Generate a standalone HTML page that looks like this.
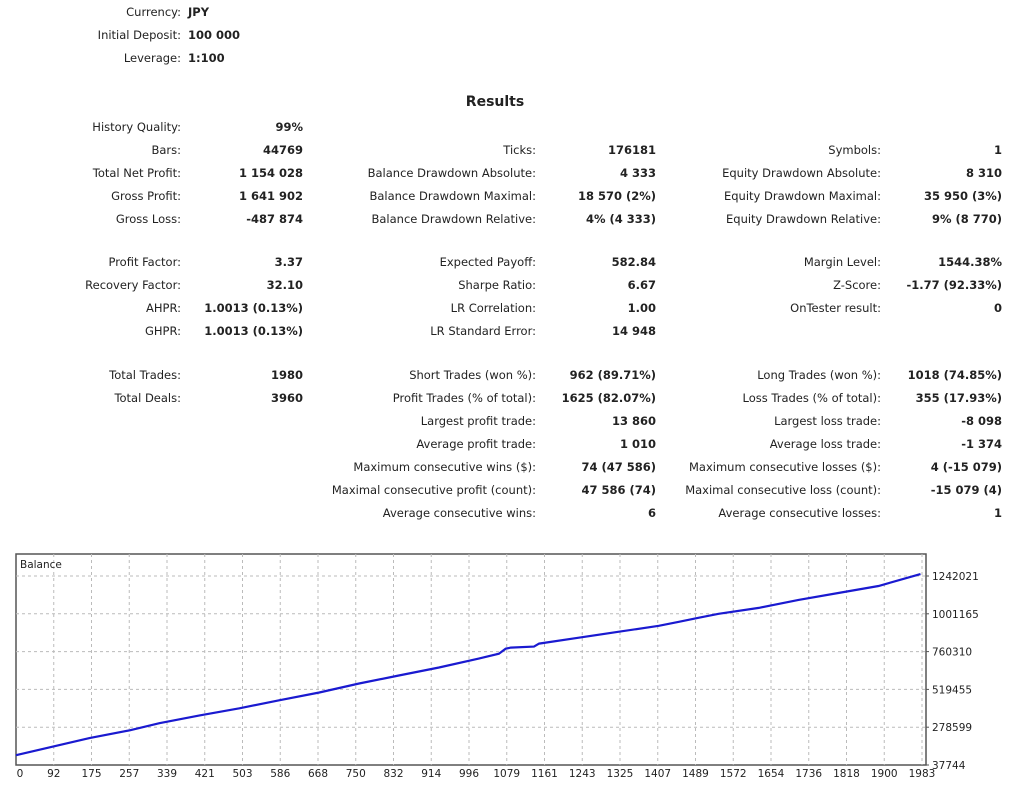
<!DOCTYPE html>
<html><head><meta charset="utf-8">
<style>
body{margin:0;width:1024px;height:800px;background:#fff;position:relative;overflow:hidden;font-family:"DejaVu Sans","Liberation Sans",sans-serif;font-size:11.5px;color:#222}
.l{position:absolute;text-align:right;white-space:nowrap;transform:translateY(-50%)}
.v{position:absolute;text-align:right;white-space:nowrap;font-weight:bold;transform:translateY(-50%)}
.h{position:absolute;white-space:nowrap;font-weight:bold;transform:translateY(-50%)}
#title{position:absolute;left:0;width:990px;text-align:center;top:94px;font-weight:bold;font-size:14px}
svg text{font-family:"DejaVu Sans","Liberation Sans",sans-serif;font-size:10.5px;fill:#222}
</style></head><body>
<div id="title">Results</div>
<div id="stats"></div>
<svg id="chart" width="1024" height="800" style="position:absolute;left:0;top:0"></svg>
<script>
const hdr=[["Currency:","JPY",12],["Initial Deposit:","100 000",35],["Leverage:","1:100",58]];
const rows=[
[127,"History Quality:","99%"],
[150,"Bars:","44769","Ticks:","176181","Symbols:","1"],
[173,"Total Net Profit:","1 154 028","Balance Drawdown Absolute:","4 333","Equity Drawdown Absolute:","8 310"],
[196,"Gross Profit:","1 641 902","Balance Drawdown Maximal:","18 570 (2%)","Equity Drawdown Maximal:","35 950 (3%)"],
[219,"Gross Loss:","-487 874","Balance Drawdown Relative:","4% (4 333)","Equity Drawdown Relative:","9% (8 770)"],
[262,"Profit Factor:","3.37","Expected Payoff:","582.84","Margin Level:","1544.38%"],
[285,"Recovery Factor:","32.10","Sharpe Ratio:","6.67","Z-Score:","-1.77 (92.33%)"],
[308,"AHPR:","1.0013 (0.13%)","LR Correlation:","1.00","OnTester result:","0"],
[331,"GHPR:","1.0013 (0.13%)","LR Standard Error:","14 948"],
[375,"Total Trades:","1980","Short Trades (won %):","962 (89.71%)","Long Trades (won %):","1018 (74.85%)"],
[398,"Total Deals:","3960","Profit Trades (% of total):","1625 (82.07%)","Loss Trades (% of total):","355 (17.93%)"],
[421,"","","Largest profit trade:","13 860","Largest loss trade:","-8 098"],
[444,"","","Average profit trade:","1 010","Average loss trade:","-1 374"],
[467,"","","Maximum consecutive wins ($):","74 (47 586)","Maximum consecutive losses ($):","4 (-15 079)"],
[490,"","","Maximal consecutive profit (count):","47 586 (74)","Maximal consecutive loss (count):","-15 079 (4)"],
[513,"","","Average consecutive wins:","6","Average consecutive losses:","1"]];
const st=document.getElementById('stats');
function add(cls,txt,y,right,left){const d=document.createElement('div');d.className=cls;d.textContent=txt;d.style.top=y+'px';
if(right!=null)d.style.right=(1024-right)+'px';else d.style.left=left+'px';


st.appendChild(d);}
hdr.forEach(h=>{add('l',h[0],h[2],181);add('h',h[1],h[2],null,188);});
const lx=[181,536,881],vx=[303,656,1002];
rows.forEach(r=>{for(let c=0;c<3;c++){if(r[1+2*c]){add('l',r[1+2*c],r[0],lx[c]);add('v',r[2+2*c],r[0],vx[c]);}}});

// chart data
const tradeIdx=[0,161,249,314,402,489,576,664,751,838,926,1013,1057,1072,1083,1134,1145,1232,1320,1407,1451,1495,1538,1626,1713,1800,1888,1980];
const balance=[100000,209000,259000,304000,354000,399000,450000,500000,557000,608000,659000,716000,747000,779000,786000,792000,811000,849000,887000,925000,950000,976000,1001000,1039000,1090000,1134000,1178000,1254000];
const xTicks=["0","92","175","257","339","421","503","586","668","750","832","914","996","1079","1161","1243","1325","1407","1489","1572","1654","1736","1818","1900","1983"];
const yTicks=["37744","278599","519455","760310","1001165","1242021"];
const X0=16,X1=926,Y0=765,Y1=554,xMax=1992,yMin=37744,yStep=240855.4,yPx=37.8;
const xs=v=>X0+(v/xMax)*(X1-X0);
const ys=v=>Y0-(v-yMin)/yStep*yPx;
const svg=document.getElementById('chart');const NS='http://www.w3.org/2000/svg';
function mk(t,a){const e=document.createElementNS(NS,t);for(const k in a)e.setAttribute(k,a[k]);svg.appendChild(e);return e;}
const frame=mk('rect',{x:X0,y:Y1,width:X1-X0,height:Y0-Y1,fill:'#fff',stroke:'#555','stroke-width':1.5});


const gx=(X1-X0-4)/24;
xTicks.forEach((t,i)=>{const x=X0+i*gx;
 if(i>0){const g=mk('line',{x1:x,x2:x,y1:Y1,y2:Y0,stroke:'#bbb','stroke-dasharray':'3,3'});
 
 }
 const tx=mk('text',{x:x+(i==0?4:0),y:777,'text-anchor':'middle'});tx.textContent=t;
 
 });
yTicks.forEach((t,i)=>{const y=Y0-i*yPx;
 if(i>0){const g=mk('line',{x1:X0,x2:X1,y1:y,y2:y,stroke:'#bbb','stroke-dasharray':'3,3'});
 
 }
 mk('line',{x1:X1,x2:X1+3,y1:y,y2:y,stroke:'#555'});
 const tx=mk('text',{x:932,y:y+4});tx.textContent=t;
 
 });
const lbl=mk('text',{x:20,y:568});lbl.textContent='Balance';


const pts=tradeIdx.map((t,i)=>xs(t).toFixed(1)+','+ys(balance[i]).toFixed(1)).join(' ');
const line=mk('polyline',{points:pts,fill:'none',stroke:'#1a1ad0','stroke-width':2.2});


</script>
</body></html>
